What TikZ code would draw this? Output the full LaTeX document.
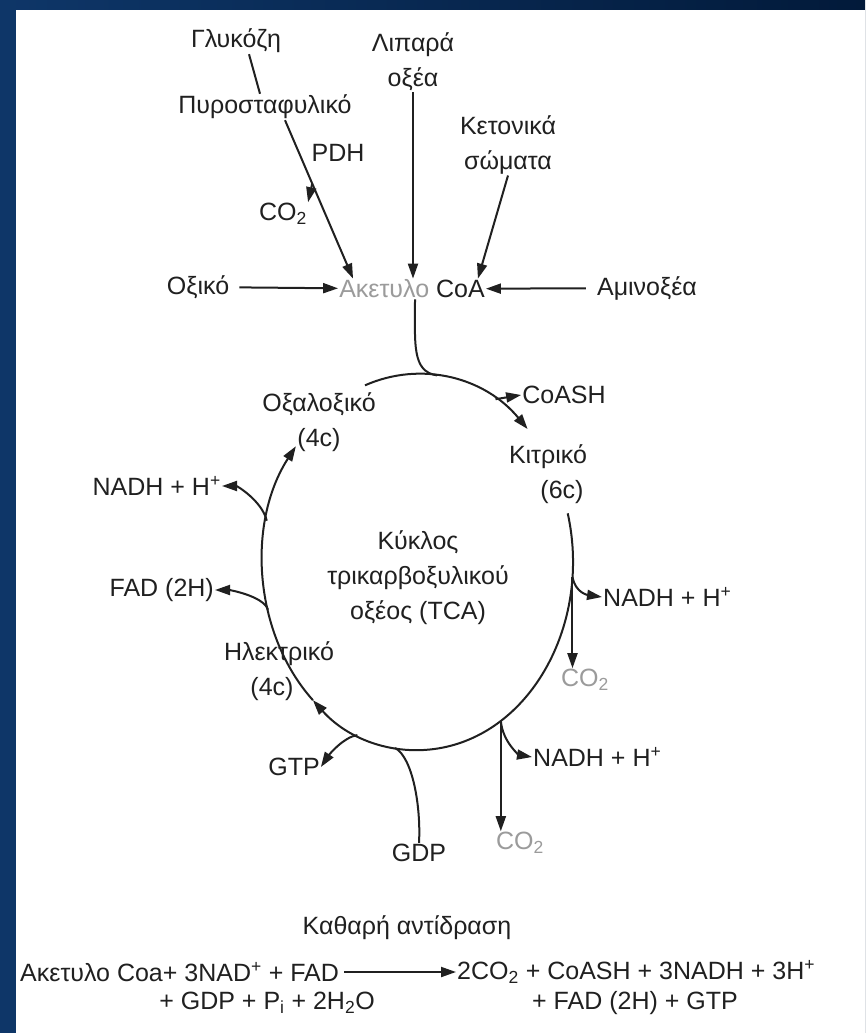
\documentclass[tikz,border=0pt]{standalone}
\usepackage{fontspec}
\setmainfont{Liberation Sans}
\usetikzlibrary{positioning,arrows.meta}

\definecolor{navyA}{RGB}{14,54,104}
\definecolor{navyB}{RGB}{2,26,58}
\definecolor{ink}{RGB}{32,32,32}
\definecolor{faded}{RGB}{155,155,155}

\begin{document}
\begin{tikzpicture}[x=1pt, y=-1pt, >={Triangle[length=15pt,width=10pt]},
  lbl/.style={inner sep=1pt, text=ink, align=center, font=\fontsize{25}{35}\selectfont},
  faint/.style={lbl, text=faded},
  flow/.style={draw=ink, line width=2pt}]
  % Background
  \shade[left color=navyA, right color=navyB] (0,0) rectangle (865,1033);
  \fill[white] (16,10) rectangle (865,1033);
  \useasboundingbox (0,0) rectangle (865,1033);

  % Nodes
  \node[lbl] (glu) at (236,41) {Γλυκόζη};
  \node[lbl] (pyr) at (265,107) {Πυροσταφυλικό};
  \node[lbl] (fa) at (413,62) {Λιπαρά\\οξέα};
  \node[lbl] (ket) at (508,145) {Κετονικά\\σώματα};
  \node[lbl] (pdh) at (338,153) {PDH};
  \node[lbl] (co2a) at (283,214) {CO\textsubscript{2}};
  \node[lbl] (ace) at (198,287) {Οξικό};
  \node[lbl] (acoa) at (412,289) {\textcolor{faded}{Ακετυλο} CoA};
  \node[lbl] (amino) at (647,288) {Αμινοξέα};

  \node[lbl] (oaa) at (319,422) {Οξαλοξικό\\(4c)};
  \node[lbl] (coash) at (564,395) {CoASH};
  \node[lbl] (cit) at (548,474) {Κιτρικό\\\hspace*{28pt}(6c)};
  \node[lbl] (tca) at (418,578) {Κύκλος\\τρικαρβοξυλικού\\οξέος (TCA)};
  \node[lbl, anchor=west] (nadhA) at (602,597) {NADH + H\textsuperscript{+}};
  \node[faint] (co2b) at (585,680) {CO\textsubscript{2}};
  \node[lbl, anchor=west] (nadhB) at (532,757) {NADH + H\textsuperscript{+}};
  \node[faint] (co2c) at (520,843) {CO\textsubscript{2}};
  \node[lbl] (gdp) at (419,853) {GDP};
  \node[lbl] (gtp) at (294,767) {GTP};
  \node[lbl] (suc) at (279,671) {Ηλεκτρικό\\(4c)\hspace*{14pt}};
  \node[lbl, anchor=east] (fad) at (215,590) {FAD (2H)};
  \node[lbl, anchor=east] (nadhC) at (222,486) {NADH + H\textsuperscript{+}};

  \node[lbl] (net) at (407,928) {Καθαρή αντίδραση};
  \node[lbl, anchor=west] (lhs) at (19,972) {Ακετυλο Coa+ 3NAD\textsuperscript{+} + FAD};
  \node[lbl, anchor=west] (rhs) at (456,972) {2CO\textsubscript{2} + CoASH + 3NADH + 3H\textsuperscript{+}};
  \node[lbl] (lhs2) at (267,1003) {+ GDP + P\textsubscript{i} + 2H\textsubscript{2}O};
  \node[lbl] (rhs2) at (635,1003) {+ FAD (2H) + GTP};

  % Cycle
  \coordinate (cyc) at (418,562);
  \foreach \ang/\nm in {300/jCoash, 4.6/jNadhA, 57.7/jNadhB, 98.5/jGdp, 113/jGtp, 165.3/jFad, 192.7/jNadhC, 277/jTop}
    \path (cyc) ++(\ang:155 and 188) coordinate (\nm);

  \draw[flow,->] (cyc) ++(250:155 and 188) arc[start angle=250, end angle=315, x radius=155, y radius=188];
  \draw[flow,->] (cyc) ++(-15:155 and 188) arc[start angle=-15, end angle=132.7, x radius=155, y radius=188];
  \draw[flow,->] (cyc) ++(132.7:155 and 188) arc[start angle=132.7, end angle=218, x radius=155, y radius=188];

  % Arrows
  \draw[flow] ([xshift=13pt]glu.south) -- ([xshift=-5pt]pyr.north);
  \draw[flow,->] ([xshift=20pt]pyr.south) -- coordinate[pos=0.4] (jPdh) ([xshift=15pt]acoa.north west);
  \draw[flow,->] (jPdh) -- (co2a.north east);
  \draw[flow,->] (fa.south) -- (fa.south |- acoa.north);
  \draw[flow,->] (ket.south) -- ([xshift=-8pt]acoa.north east);
  \draw[flow,->,shorten <=9pt] (ace) -- (acoa);
  \draw[flow,->,shorten <=10pt] (amino) -- (acoa);
  \draw[flow] ([xshift=3pt]acoa.south) .. controls +(0,45) and +(-25,-4) .. (jTop);

  \draw[flow,->] (jCoash) -- (coash.west);
  \draw[flow,->] (jNadhA) .. controls +(3,16) and +(-14,-2) .. (nadhA.west);
  \draw[flow,->] (jNadhA) -- (jNadhA |- co2b.north);
  \draw[flow,->] (jNadhB) .. controls +(2,22) and +(-12,-2) .. (nadhB.west);
  \draw[flow,->] (jNadhB) -- (jNadhB |- co2c.north);
  \draw[flow] (gdp.north) .. controls +(2,-35) and +(18,10) .. (jGdp);
  \draw[flow,->] (jGtp) .. controls +(-14,2) and +(8,-12) .. (gtp.east);
  \draw[flow,->] (jFad) .. controls +(-5,-14) and +(14,0) .. (fad.east);
  \draw[flow,->] (jNadhC) .. controls +(-5,-20) and +(15,0) .. (nadhC.east);
  \draw[flow,->,shorten <=4pt] (lhs) -- (rhs);
\end{tikzpicture}
\end{document}
